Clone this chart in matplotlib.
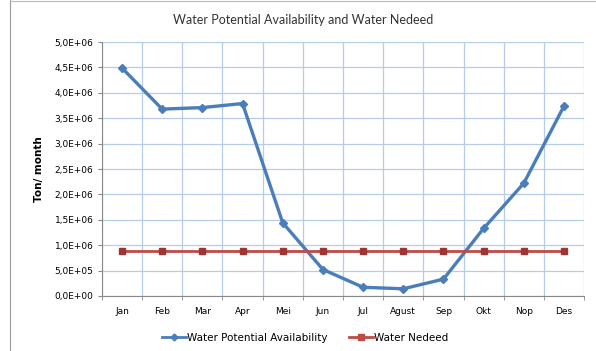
import matplotlib.pyplot as plt
import numpy as np
from matplotlib.ticker import FuncFormatter
from matplotlib.lines import Line2D

months = ['Jan', 'Feb', 'Mar', 'Apr', 'Mei', 'Jun', 'Jul', 'Agust', 'Sep', 'Okt', 'Nop', 'Des']
availability = [4.49e6, 3.68e6, 3.71e6, 3.79e6, 1.44e6, 0.52e6, 0.17e6, 0.14e6, 0.33e6, 1.33e6, 2.22e6, 3.74e6]
needed = [0.89e6] * 12

blue = '#4A7EBB'
red = '#BE4B48'
grid_col = '#B7CCE8'

fig = plt.figure(figsize=(5.96, 3.51), dpi=100)
ax = fig.add_axes([0.171, 0.157, 0.809, 0.723])

x = np.arange(len(months))
ax.plot(x, availability, color=blue, lw=2.4, marker='D', ms=4.5, mfc=blue, mec=blue,
        label='Water Potential Availability', zorder=3)
ax.plot(x, needed, color=red, lw=2.0, marker='s', ms=5, mfc='#9E3532', mec='#9E3532',
        label='Water Nedeed', zorder=3)

ax.set_xlim(-0.5, 11.5)
ax.set_ylim(0, 5e6)
ax.set_yticks(np.arange(0, 5.01e6, 0.5e6))
ax.yaxis.set_major_formatter(FuncFormatter(lambda v, p: ('%.1E' % v).replace('.', ',')))
ax.set_xticks(x)
ax.set_xticklabels(months)
ax.set_xticks(np.arange(-0.5, 12, 1), minor=True)
ax.tick_params(axis='x', which='major', length=0, labelsize=6.5, pad=8)
ax.tick_params(axis='x', which='minor', length=3, color='#888888')
ax.tick_params(axis='y', length=3, color='#888888', labelsize=6.5, pad=3)

ax.grid(True, axis='y', color=grid_col, lw=0.9)
ax.grid(True, axis='x', which='minor', color=grid_col, lw=0.9)
ax.set_axisbelow(True)
for s in ['top', 'right']:
    ax.spines[s].set_visible(False)
for s in ['left', 'bottom']:
    ax.spines[s].set_color('#888888')
    ax.spines[s].set_linewidth(0.8)

ax.set_ylabel('Ton/ month', fontsize=7.5, fontweight='bold', labelpad=8)
fig.text(0.508, 0.943, 'Water Potential Availability and Water Nedeed', ha='center', va='center',
         fontsize=9, family='Lato', color='#333333')

handles = [Line2D([], [], color=blue, lw=2, marker='D', ms=3.5),
           Line2D([], [], color=red, lw=2, marker='s', ms=4)]
fig.legend(handles, ['Water Potential Availability', 'Water Nedeed'], loc='center',
           bbox_to_anchor=(0.512, 0.037), ncol=2, frameon=False, fontsize=7.5,
           handlelength=2.3, handletextpad=0.1, columnspacing=2.0)

# outer chart frame
fig.add_artist(Line2D([0.017, 0.017], [0, 1], color='#999999', lw=0.8))
fig.add_artist(Line2D([0.017, 1], [0.998, 0.998], color='#bbbbbb', lw=0.8))

fig.savefig('out.png', dpi=100)
